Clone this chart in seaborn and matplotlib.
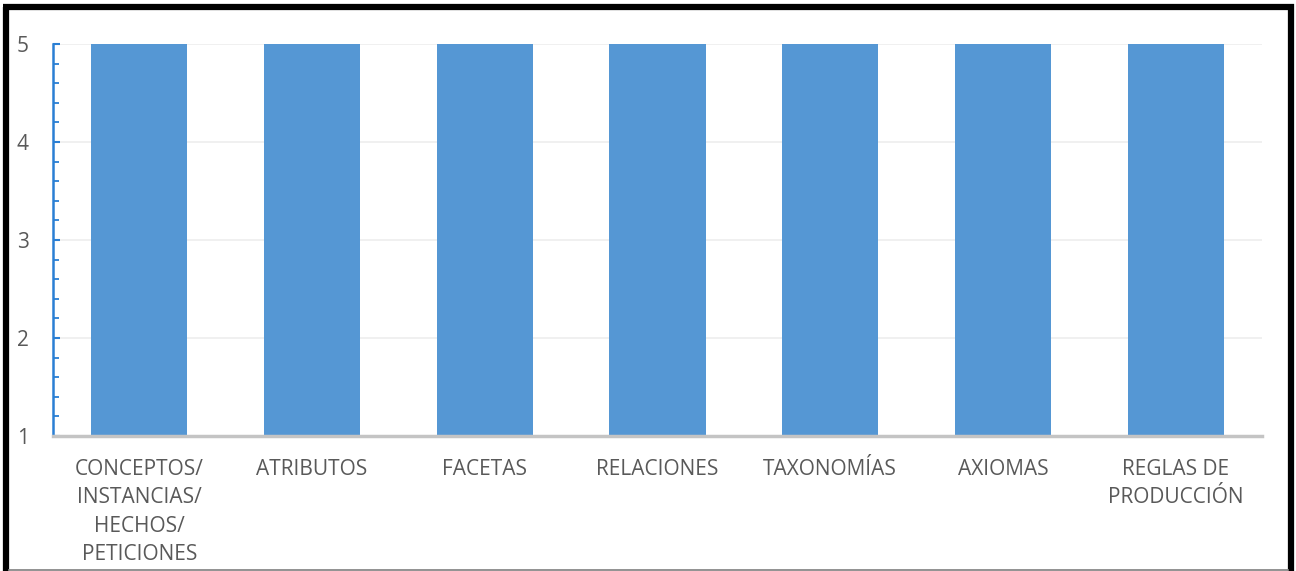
import matplotlib
matplotlib.use("Agg")
import matplotlib.pyplot as plt
from matplotlib.lines import Line2D
from matplotlib.ticker import MultipleLocator
import seaborn as sns
import pandas as pd

categories = [
    "CONCEPTOS/\nINSTANCIAS/\nHECHOS/\nPETICIONES",
    "ATRIBUTOS",
    "FACETAS",
    "RELACIONES",
    "TAXONOMÍAS",
    "AXIOMAS",
    "REGLAS DE\nPRODUCCIÓN",
]
values = [5, 5, 5, 5, 5, 5, 5]
y_ticks = [1, 2, 3, 4, 5]

df = pd.DataFrame({"categoria": categories, "valor": values})

sns.set_theme(style="white")
plt.rcParams["font.family"] = ["Open Sans", "DejaVu Sans"]

fig = plt.figure(figsize=(12.96, 5.71), dpi=100)
ax = fig.add_axes([53 / 1296, 1 - 436 / 571, (1262 - 53) / 1296, (436 - 44) / 571])

sns.barplot(data=df, x="categoria", y="valor", color="#5597d4", saturation=1,
            width=0.556, ax=ax, zorder=3)
for p in ax.patches:
    p.set_edgecolor("none")

ax.set_ylim(1, 5)
ax.set_xlim(-0.5, len(categories) - 0.5)
ax.set_yticks(y_ticks)
ax.yaxis.set_minor_locator(MultipleLocator(0.2))
ax.set_xlabel("")
ax.set_ylabel("")

ax.grid(axis="y", color="#eeeeee", linewidth=1.2, zorder=0)
ax.set_axisbelow(True)

for side in ["top", "right"]:
    ax.spines[side].set_visible(False)
ax.spines["left"].set_color("#2a7fd4")
ax.spines["left"].set_linewidth(1.8)
ax.spines["bottom"].set_color("#c4c4c4")
ax.spines["bottom"].set_linewidth(2.5)
ax.spines["bottom"].set_zorder(4)

ax.tick_params(axis="y", which="major", direction="in", length=5, width=1.5,
               color="#2a7fd4", left=True, labelsize=15, labelcolor="#595959", pad=26)
ax.tick_params(axis="y", which="minor", direction="in", length=4, width=1.3,
               color="#2a7fd4", left=True)
ax.tick_params(axis="x", length=0, labelsize=15, labelcolor="#595959", pad=16.5)
for lbl in ax.get_xticklabels():
    lbl.set_linespacing(1.47)
    lbl.set_verticalalignment("top")
for lbl in ax.get_yticklabels():
    lbl.set_horizontalalignment("left")

# frame around the chart
W, H = 1296, 571
fig.add_artist(Line2D([6 / W, 6 / W], [1 - 7 / H, 0], color="black", linewidth=4.5,
                      transform=fig.transFigure, solid_capstyle="butt"))
fig.add_artist(Line2D([3 / W, 1294 / W], [1 - 7 / H, 1 - 7 / H], color="black", linewidth=4.5,
                      transform=fig.transFigure, solid_capstyle="butt"))
fig.add_artist(Line2D([1291 / W, 1291 / W], [1 - 4 / H, 0], color="black", linewidth=4.5,
                      transform=fig.transFigure, solid_capstyle="butt"))
fig.add_artist(Line2D([8 / W, 1289 / W], [1 - 569.5 / H, 1 - 569.5 / H], color="#7f7f7f",
                      linewidth=1.2, transform=fig.transFigure, solid_capstyle="butt"))

fig.savefig("out.png", dpi=100)
